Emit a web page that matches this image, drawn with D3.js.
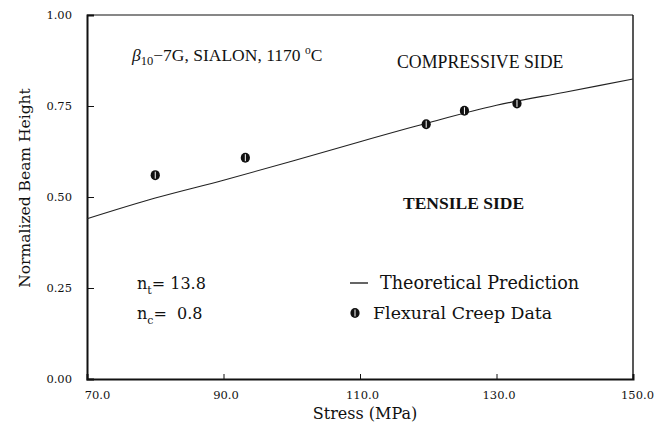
<!DOCTYPE html>
<html>
<head>
<meta charset="utf-8">
<script src="https://cdn.jsdelivr.net/npm/d3@7"></script>
<style>
  html, body { margin: 0; padding: 0; background: #fff; }
  svg { display: block; }
  text { fill: #111; }
</style>
</head>
<body>
<div id="chart"></div>
<script>
/* ---------- data ---------- */
const creepStress = [80.0, 93.2, 119.7, 125.3, 133.0];
const creepHeight = [0.560, 0.608, 0.700, 0.737, 0.757];

const theoryStress = [70, 80, 90, 100, 110, 120, 130, 140, 150];
const theoryHeight = [0.440, 0.497, 0.546, 0.598, 0.652, 0.704, 0.752, 0.788, 0.824];

const xTicks = [70, 90, 110, 130, 150];
const yTicks = [0, 0.25, 0.5, 0.75, 1.0];

/* ---------- layout ---------- */
const W = 668, H = 422;
const m = { top: 15, right: 35, bottom: 43, left: 87 };
const serif = "'DejaVu Serif', 'Liberation Serif', serif";
const times = "'Liberation Serif', 'Times New Roman', serif";

const svg = d3.select('#chart').append('svg')
  .attr('width', W).attr('height', H);

const x = d3.scaleLinear().domain([70, 150]).range([m.left, W - m.right]);
const y = d3.scaleLinear().domain([0, 1]).range([H - m.bottom, m.top]);

/* frame: left/bottom heavy, top/right light */
svg.append('line').attr('x1', x(70)).attr('x2', x(150)).attr('y1', y(1)).attr('y2', y(1))
  .attr('stroke', '#111').attr('stroke-width', 1.2);
svg.append('line').attr('x1', x(150)).attr('x2', x(150)).attr('y1', y(1)).attr('y2', y(0))
  .attr('stroke', '#111').attr('stroke-width', 1.4);

/* axes */
const xAxis = d3.axisBottom(x).tickValues(xTicks).tickSize(-5).tickPadding(12)
  .tickFormat(d3.format('.1f'));
const yAxis = d3.axisLeft(y).tickValues(yTicks).tickSize(-7).tickPadding(15)
  .tickFormat(d3.format('.2f'));

const gx = svg.append('g').attr('transform', `translate(0,${y(0)})`).call(xAxis);
const gy = svg.append('g').attr('transform', `translate(${x(70)},0)`).call(yAxis);

[gx, gy].forEach(g => {
  g.select('.domain').attr('stroke', '#111').attr('stroke-width', 2);
  g.selectAll('.tick line').attr('stroke', '#111').attr('stroke-width', 1);
  g.selectAll('.tick text').attr('font-family', serif).attr('font-size', 11.5)
    .attr('fill', '#111');
});
// no tick marks at the corners
gx.selectAll('.tick line').filter(d => d === 70 || d === 150).remove();
gy.selectAll('.tick line').filter(d => d === 0 || d === 1).remove();
gx.selectAll('.tick text').attr('dx', d => d === 70 ? 10 : d === 150 ? 4 : 2);

/* axis titles */
svg.append('text')
  .attr('x', 365).attr('y', 419).attr('text-anchor', 'middle')
  .attr('font-family', serif).attr('font-size', 16)
  .text('Stress (MPa)');

svg.append('text')
  .attr('transform', 'translate(30,188) rotate(-90)')
  .attr('text-anchor', 'middle')
  .attr('font-family', serif).attr('font-size', 15.5)
  .text('Normalized Beam Height');

/* theoretical prediction */
const line = d3.line()
  .x((d, i) => x(theoryStress[i]))
  .y(d => y(d))
  .curve(d3.curveMonotoneX);

svg.append('path')
  .datum(theoryHeight)
  .attr('d', line)
  .attr('fill', 'none')
  .attr('stroke', '#222')
  .attr('stroke-width', 1.1);

/* data markers: black disc with a white vertical slit */
function marker(g, cx, cy) {
  g.append('ellipse').attr('cx', cx).attr('cy', cy).attr('rx', 4.6).attr('ry', 5)
    .attr('fill', '#111');
  g.append('line').attr('x1', cx).attr('x2', cx).attr('y1', cy - 3.5).attr('y2', cy + 3.5)
    .attr('stroke', '#fff').attr('stroke-width', 1);
}
const pts = svg.append('g');
creepStress.forEach((s, i) => marker(pts, x(s), y(creepHeight[i])));

/* annotations */
const title = svg.append('text')
  .attr('x', 132).attr('y', 61)
  .attr('font-family', times).attr('font-size', 17.5);
title.append('tspan').attr('font-style', 'italic').text('β');
title.append('tspan').attr('font-size', 12.5).attr('dy', 4).text('10');
title.append('tspan').attr('dy', -4).text('−7G, SIALON, 1170 ');
title.append('tspan').attr('font-size', 11.5).attr('dy', -7).text('o');
title.append('tspan').attr('dy', 7).text('C');

svg.append('text').attr('x', 397).attr('y', 68)
  .attr('font-family', times).attr('font-size', 17.8)
  .text('COMPRESSIVE SIDE');

svg.append('text').attr('x', 403).attr('y', 209)
  .attr('font-family', times).attr('font-size', 17.5).attr('font-weight', 'bold')
  .text('TENSILE SIDE');

const nt = svg.append('text').attr('x', 137).attr('y', 289)
  .attr('font-family', serif).attr('font-size', 16);
nt.append('tspan').text('n');
nt.append('tspan').attr('font-size', 11).attr('dy', 5).text('t');
nt.append('tspan').attr('dy', -5).text('= 13.8');

const nc = svg.append('text').attr('x', 137).attr('y', 319)
  .attr('font-family', serif).attr('font-size', 16);
nc.append('tspan').text('n');
nc.append('tspan').attr('font-size', 11).attr('dy', 5).text('c');
nc.append('tspan').attr('dy', -5).text('=\u00a0 0.8');

/* legend */
svg.append('line').attr('x1', 350).attr('x2', 368).attr('y1', 283).attr('y2', 283)
  .attr('stroke', '#111').attr('stroke-width', 1.3);
svg.append('text').attr('x', 380).attr('y', 289)
  .attr('font-family', serif).attr('font-size', 17.6)
  .text('Theoretical Prediction');

marker(svg.append('g'), 355, 313);
svg.append('text').attr('x', 373).attr('y', 319)
  .attr('font-family', serif).attr('font-size', 17.4)
  .text('Flexural Creep Data');
</script>
</body>
</html>
